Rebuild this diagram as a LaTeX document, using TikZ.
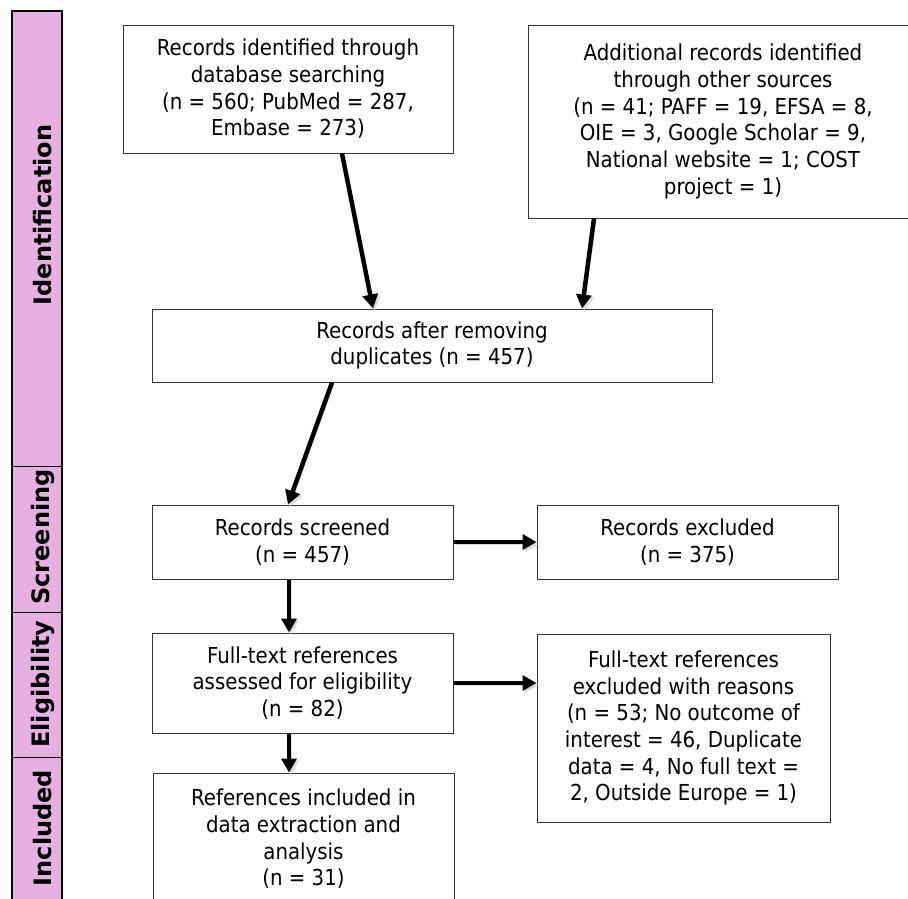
\documentclass[tikz,border=0pt]{standalone}
\usepackage{fontspec}
\setmainfont{DejaVu Sans Condensed}
\newfontfamily\stagefont{DejaVu Sans}
\usepackage{xcolor}
\usetikzlibrary{arrows.meta}
\definecolor{stagepink}{RGB}{230,176,227}
\tikzset{
  box/.style = {draw=black!80, line width=1pt, fill=white, align=center,
    inner sep=0pt, font=\fontsize{22}{26.7}\selectfont}
}
\tikzset{
  flow/.style = {-{Triangle[length=14pt,width=15pt]}, line width=4.5pt,
    preaction={draw=black!15, transform canvas={shift={(2pt,-2pt)}}}}
}
\tikzset{
  stage/.style = {rotate=90, inner sep=0pt,
    font=\stagefont\bfseries\fontsize{24}{28}\selectfont}
}

\begin{document}
\begin{tikzpicture}[x=1pt, y=-1pt]
  \clip (0,0) rectangle (908,898);

  % stages bar
  \draw[fill=stagepink, line width=1.5pt] (12,11) rectangle (62,910);
  \draw[line width=1pt] (12,466) -- (62,466);
  \draw[line width=1pt] (12,612) -- (62,612);
  \draw[line width=1pt] (12,757) -- (62,757);
  \node[stage] (idn) at (43,215) {Identification};
  \node[stage] (scn) at (43,537) {Screening};
  \node[stage] (elg) at (43,684) {Eligibility};
  \node[stage] (icl) at (43,828) {Included};

  % boxes
  \node[box, minimum width=330pt, minimum height=128pt] (rec) at (288,89)
    {Records identified through\\database searching\\(n = 560; PubMed = 287,\\Embase = 273)};
  \node[box, minimum width=390pt, minimum height=193pt] (add) at (723,121.5)
    {Additional records identified\\through other sources\\(n = 41; PAFF = 19, EFSA = 8,\\OIE = 3, Google Scholar = 9,\\National website = 1; COST\\project = 1)};
  \node[box, minimum width=560pt, minimum height=73pt] (dup) at (432,345.5)
    {Records after removing\\duplicates (n = 457)};
  \node[box, minimum width=301pt, minimum height=74pt] (scr) at (302.5,542)
    {Records screened\\(n = 457)};
  \node[box, minimum width=301pt, minimum height=74pt] (exc) at (687.5,542)
    {Records excluded\\(n = 375)};
  \node[box, minimum width=301pt, minimum height=100pt] (full) at (302.5,683)
    {Full-text references\\assessed for eligibility\\(n = 82)};
  \node[box, minimum width=293pt, minimum height=188pt] (fexc) at (683.5,728)
    {Full-text references\\excluded with reasons\\(n = 53; No outcome of\\interest = 46, Duplicate\\data = 4, No full text =\\2, Outside Europe = 1)};
  \node[box, minimum width=301pt, minimum height=132pt] (inc) at (303.5,839)
    {References included in\\data extraction and\\analysis\\(n = 31)};

  % arrows
  \draw[flow] ([xshift=54pt]rec.south) -- ([xshift=-59pt]dup.north);
  \draw[flow] ([xshift=-129pt]add.south) -- ([xshift=150pt]dup.north);
  \draw[flow] ([xshift=-100pt]dup.south) -- ([xshift=-14.5pt]scr.north);
  \draw[flow] (scr.east) -- (exc.west);
  \draw[flow] ([xshift=-13.5pt]scr.south) -- ([xshift=-13.5pt]full.north);
  \draw[flow] (full.east) -- (full.east -| fexc.west);
  \draw[flow] ([xshift=-13.5pt]full.south) -- ([xshift=-14.5pt]inc.north);
\end{tikzpicture}
\end{document}
